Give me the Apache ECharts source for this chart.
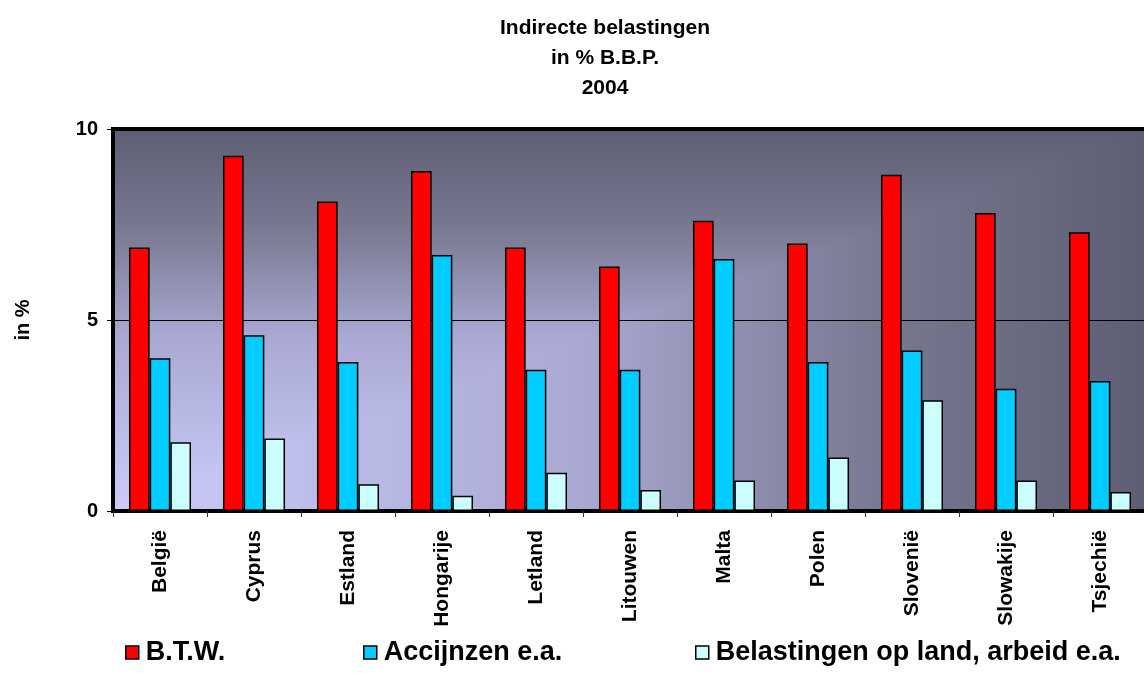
<!DOCTYPE html>
<html>
<head>
<meta charset="utf-8">
<script src="https://cdn.jsdelivr.net/npm/echarts@6/dist/echarts.min.js"></script>
<style>html,body{margin:0;padding:0;background:#fff}#c{width:1144px;height:673px}</style>
</head>
<body>
<div id="c"></div>
<script>
var categories = ['België','Cyprus','Estland','Hongarije','Letland','Litouwen','Malta','Polen','Slovenië','Slowakije','Tsjechië'];
var btw = [6.9, 9.3, 8.1, 8.9, 6.9, 6.4, 7.6, 7.0, 8.8, 7.8, 7.3];
var accijnzen = [4.0, 4.6, 3.9, 6.7, 3.7, 3.7, 6.6, 3.9, 4.2, 3.2, 3.4];
var belastingen = [1.8, 1.9, 0.7, 0.4, 1.0, 0.55, 0.8, 1.4, 2.9, 0.8, 0.5];
var seriesNames = ['B.T.W.', 'Accijnzen e.a.', 'Belastingen op land, arbeid e.a.'];
var yTicks = [0, 5, 10];
var titleText = 'Indirecte belastingen\nin % B.B.P.\n2004';
var yName = 'in %';

var G = {left: 113, top: 129, width: 1034, height: 382};
var font = '"Liberation Sans", Arial, sans-serif';
var stops = [
  {offset: 0, color: '#ccccfc'},
  {offset: 0.45, color: '#a9a9d3'},
  {offset: 0.75, color: '#77778f'},
  {offset: 1, color: '#5d5d74'}];
var vStops = stops.map(function(s){ return {offset: 1 - s.offset, color: s.color}; }).reverse();

var chart = echarts.init(document.getElementById('c'), null, {renderer: 'canvas'});
var L = G.left, T = G.top, R = G.left + G.width, B = G.top + G.height;
var option = {
  animation: false,
  textStyle: {fontFamily: font},
  title: {
    text: titleText, left: 600, top: 8, textAlign: 'center',
    textStyle: {fontFamily: font, fontSize: 21, fontWeight: 'bold', color: '#000', lineHeight: 30}
  },
  graphic: [
    {type: 'rect', z: -10, silent: true,
     shape: {x: L, y: T, width: G.width, height: G.height},
     style: {fill: new echarts.graphic.LinearGradient(0, 0, 0, 1, vStops)}},
    {type: 'polygon', z: -9, silent: true,
     shape: {points: [[R, T], [R, B], [L, B]]},
     style: {fill: new echarts.graphic.LinearGradient(0, 0, 1, 0, stops)}}
  ],
  grid: {left: G.left, top: G.top, width: G.width, height: G.height, show: true,
         outerBoundsMode: 'none', containLabel: false,
         borderColor: '#000', borderWidth: 4, backgroundColor: 'transparent'},
  legend: [0, 1, 2].map(function(i){
    var lefts = [125, 363, 695];
    return {
      data: [seriesNames[i]], left: lefts[i], top: 639,
      itemWidth: 13, itemHeight: 13, icon: 'rect', padding: 0,
      itemStyle: {borderColor: '#000', borderWidth: 1.5},
      textStyle: {fontFamily: font, fontSize: 27, fontWeight: 'bold', color: '#000', padding: [0,0,0,2]}
    };
  }),
  xAxis: {
    type: 'category', data: categories, boundaryGap: true,
    axisLine: {show: true, lineStyle: {color: '#000', width: 4}},
    axisTick: {show: true, length: 6, lineStyle: {color: '#333', width: 1}},
    axisLabel: {rotate: 90, margin: 19, fontFamily: font, fontSize: 21, fontWeight: 'bold', color: '#000'}
  },
  yAxis: {
    type: 'value', min: 0, max: 10, interval: 5,
    name: yName, nameLocation: 'middle', nameGap: 80,
    nameTextStyle: {fontFamily: font, fontSize: 20, fontWeight: 'bold', color: '#000'},
    axisLine: {show: true, lineStyle: {color: '#000', width: 4}},
    axisTick: {show: true, length: 6, lineStyle: {color: '#000', width: 1}},
    axisLabel: {margin: 15, fontFamily: font, fontSize: 20, fontWeight: 'bold', color: '#000',
                formatter: function(v){ return yTicks.indexOf(v) >= 0 ? String(v) : ''; }},
    splitLine: {show: true, lineStyle: {color: '#000', width: 1}}
  },
  series: [
    {name: seriesNames[0], type: 'bar', data: btw, barGap: '0%', barCategoryGap: '34%',
     itemStyle: {color: '#ff0000', borderColor: '#000', borderWidth: 1.5}},
    {name: seriesNames[1], type: 'bar', data: accijnzen,
     itemStyle: {color: '#00ccff', borderColor: '#000', borderWidth: 1.5}},
    {name: seriesNames[2], type: 'bar', data: belastingen,
     itemStyle: {color: '#ccffff', borderColor: '#000', borderWidth: 1.5}}
  ]
};
chart.setOption(option);
</script>
</body>
</html>
